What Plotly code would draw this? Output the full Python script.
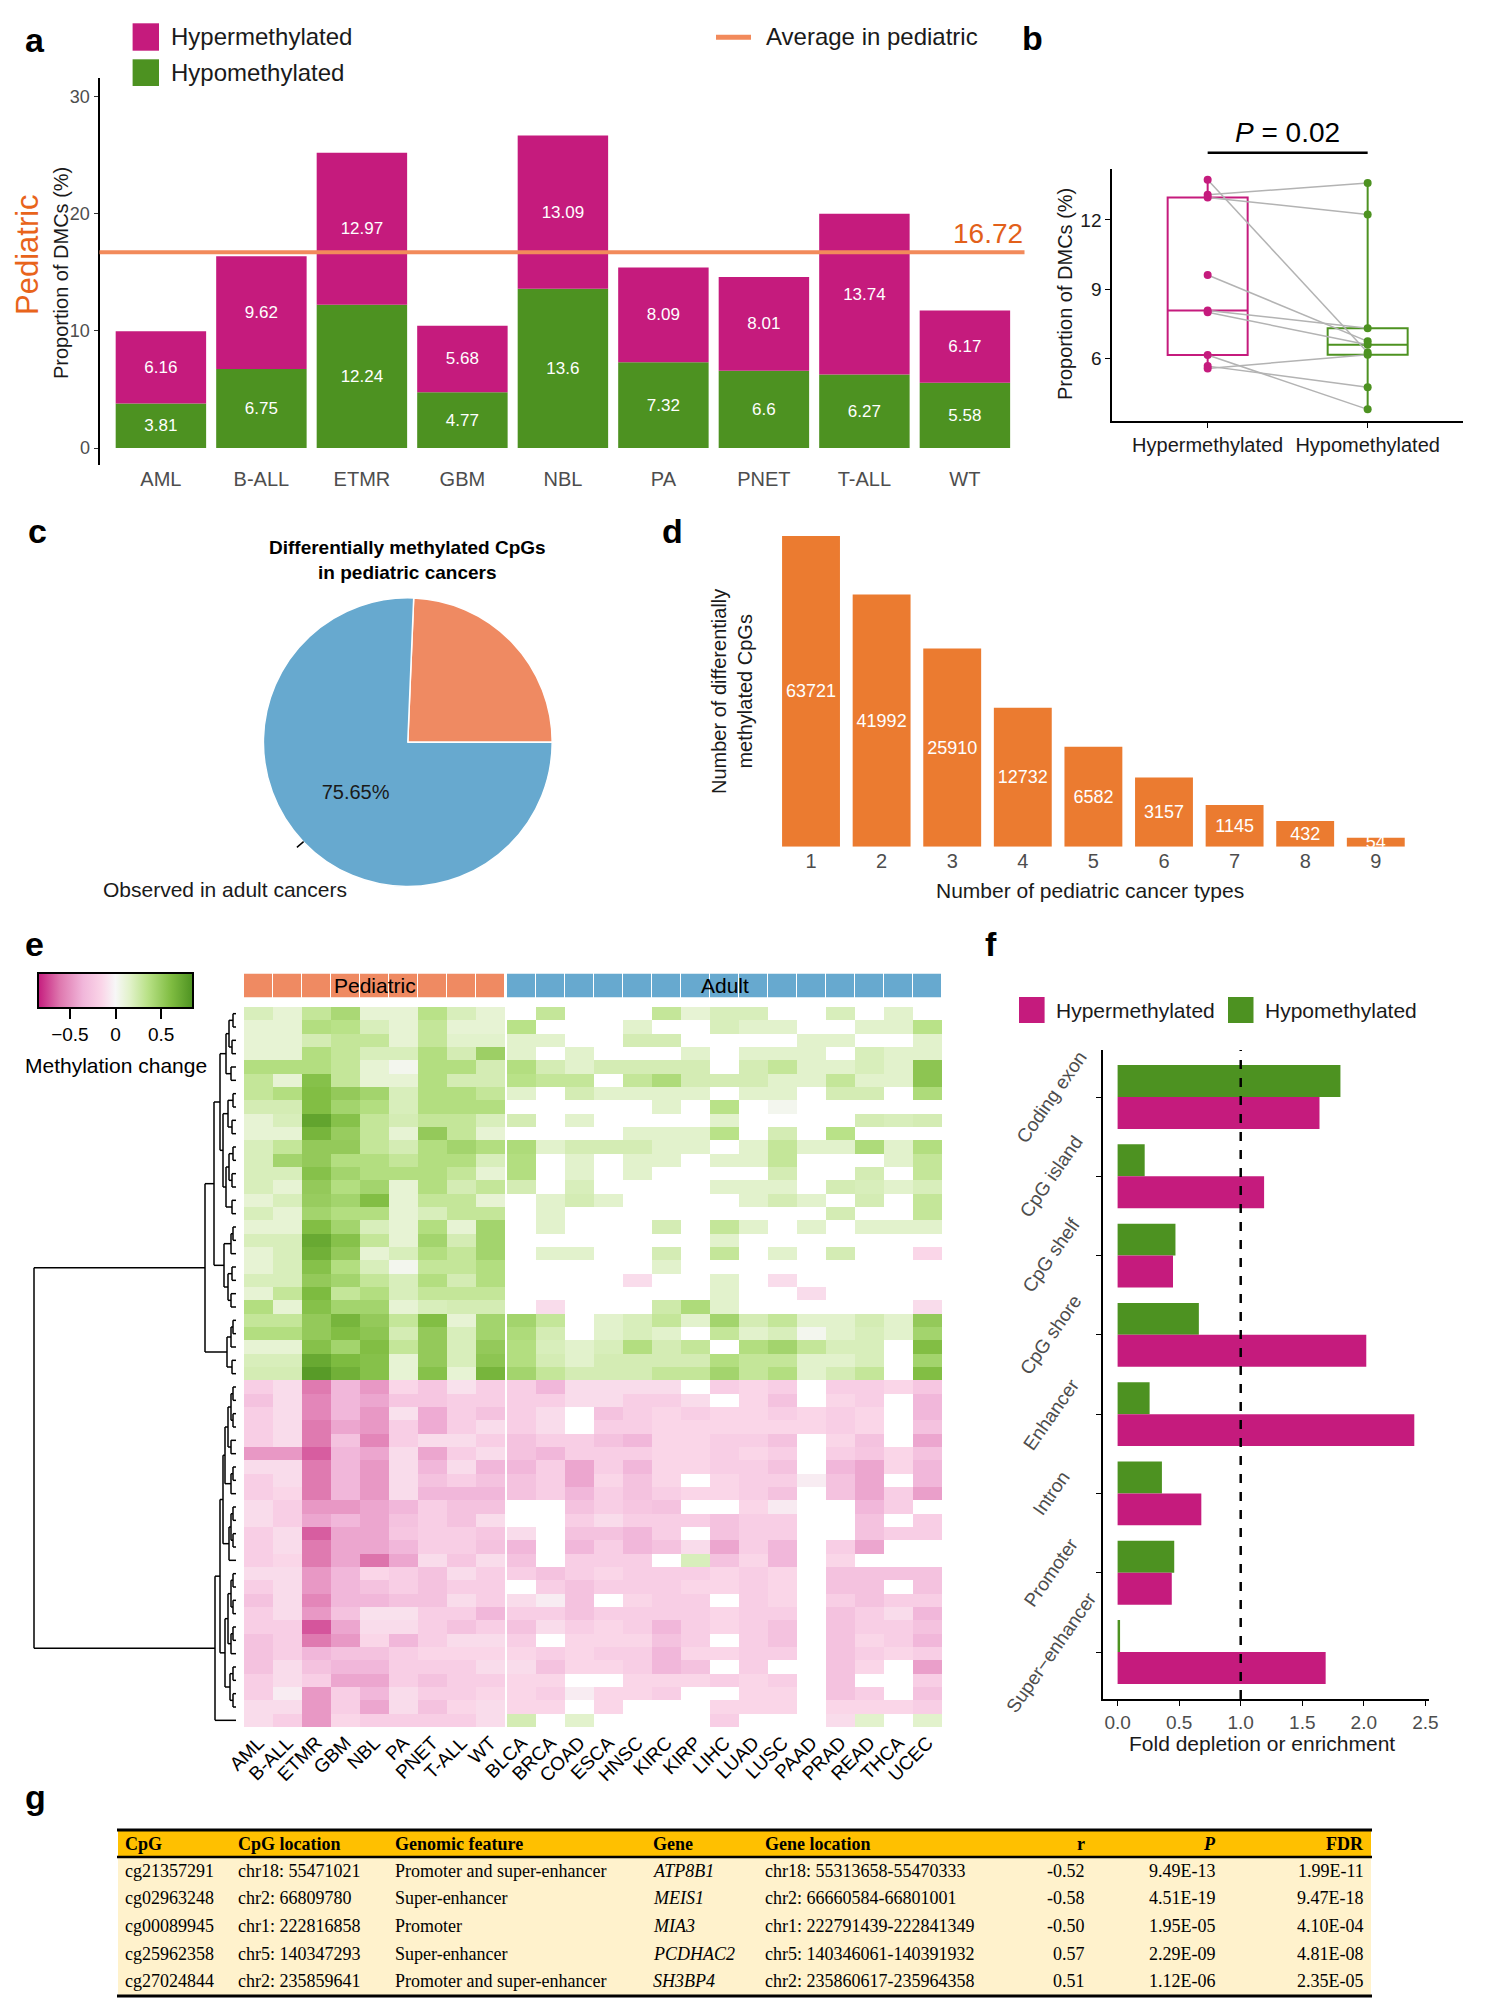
import math
import plotly.graph_objects as go

# The page body adds an 8 px margin, so the figure is drawn 8 px in from the top-left
# and sized to fill the rest of the 1488x2009 window. Positions below use window pixels.
PAGE_OFF = 8
W, H = 1488 - PAGE_OFF, 2009 - PAGE_OFF


def px_x(p):
    return (p - PAGE_OFF) / W


def px_y(p):
    return 1 - (p - PAGE_OFF) / H


FONT = "Liberation Sans, Arial, sans-serif"
SERIF = "Liberation Serif, Times New Roman, serif"
PINK = "#C51B7D"
GREEN = "#4D9221"
AVG_LINE = "#F28A5B"
AVG_TEXT = "#E2601A"
SALMON = "#EF8A62"
BLUE = "#67A9CF"
BAR_ORANGE = "#EB7B30"
GREY = "#4D4D4D"
DARK = "#1A1A1A"

# ---------------- panel a ----------------
cancer_types = ["AML", "B-ALL", "ETMR", "GBM", "NBL", "PA", "PNET", "T-ALL", "WT"]
hyper_pct = [6.16, 9.62, 12.97, 5.68, 13.09, 8.09, 8.01, 13.74, 6.17]
hypo_pct = [3.81, 6.75, 12.24, 4.77, 13.6, 7.32, 6.6, 6.27, 5.58]
avg_pediatric = 16.72

# ---------------- panel b ----------------
box_groups = ["Hypermethylated", "Hypomethylated"]
pair_hyper = [6.16, 9.62, 12.97, 5.68, 13.09, 8.09, 8.01, 13.74, 5.58]
pair_hypo = [3.81, 6.75, 12.24, 4.77, 13.6, 7.32, 6.6, 6.27, 6.17]
p_text = "0.02"

# ---------------- panel c ----------------
pie_labels = ["Not observed in adult cancers", "Observed in adult cancers"]
pie_pct = [24.35, 75.65]

# ---------------- panel d ----------------
n_types = [1, 2, 3, 4, 5, 6, 7, 8, 9]
n_cpgs = [63721, 41992, 25910, 12732, 6582, 3157, 1145, 432, 54]

# ---------------- panel e ----------------
ped_cols = ["AML", "B-ALL", "ETMR", "GBM", "NBL", "PA", "PNET", "T-ALL", "WT"]
adult_cols = ["BLCA", "BRCA", "COAD", "ESCA", "HNSC", "KIRC", "KIRP", "LIHC",
              "LUAD", "LUSC", "PAAD", "PRAD", "READ", "THCA", "UCEC"]
N = None
meth_change = [
    [0.2, 0.12, 0.3, 0.42, 0.12, 0.12, 0.35, 0.2, 0.12, N, 0.3, N, N, N, 0.3, 0.12, 0.2, 0.2, N, N, 0.2, N, 0.15, N],
    [0.12, 0.12, 0.38, 0.35, 0.2, 0.12, 0.3, 0.12, 0.12, 0.35, N, N, N, 0.15, N, N, 0.2, 0.15, 0.15, N, N, 0.15, 0.15, 0.35],
    [0.12, 0.12, 0.22, 0.3, 0.3, 0.12, 0.3, 0.15, 0.15, 0.15, 0.15, N, N, 0.22, 0.22, N, N, N, N, 0.15, 0.15, N, N, 0.15],
    [0.12, 0.12, 0.38, 0.3, 0.2, 0.2, 0.38, 0.22, 0.48, 0.15, N, 0.15, N, N, N, 0.15, N, 0.15, 0.15, 0.15, N, 0.2, 0.15, 0.15],
    [0.38, 0.38, 0.38, 0.3, 0.12, 0.03, 0.38, 0.38, 0.22, 0.38, 0.22, 0.15, 0.22, 0.22, 0.22, 0.22, N, 0.22, 0.3, 0.15, 0.15, 0.2, 0.15, 0.55],
    [0.3, 0.12, 0.58, 0.3, 0.12, 0.12, 0.38, 0.22, 0.22, 0.35, 0.3, 0.3, N, 0.3, 0.4, 0.22, 0.22, 0.22, 0.15, 0.15, 0.3, 0.15, 0.15, 0.55],
    [0.3, 0.38, 0.6, 0.52, 0.45, 0.2, 0.38, 0.38, 0.3, 0.15, N, 0.22, 0.15, 0.15, 0.15, 0.15, N, 0.15, 0.15, N, 0.22, 0.22, N, 0.4],
    [0.22, 0.22, 0.6, 0.45, 0.38, 0.2, 0.38, 0.38, 0.38, N, N, N, N, N, 0.15, N, 0.35, N, 0.03, N, N, N, N, N],
    [0.12, 0.2, 0.75, 0.58, 0.3, 0.22, 0.3, 0.3, 0.2, 0.22, N, 0.15, N, N, N, N, 0.15, N, N, N, N, 0.22, 0.2, 0.22],
    [0.12, 0.12, 0.65, 0.5, 0.3, 0.12, 0.52, 0.3, 0.12, N, N, N, N, 0.15, 0.15, 0.15, 0.35, N, 0.22, N, 0.35, N, N, N],
    [0.2, 0.3, 0.52, 0.52, 0.3, 0.22, 0.38, 0.45, 0.38, 0.4, 0.15, 0.22, 0.22, 0.22, 0.15, 0.15, N, 0.15, 0.3, 0.15, 0.15, 0.4, 0.15, 0.38],
    [0.2, 0.45, 0.52, 0.38, 0.38, 0.3, 0.38, 0.38, 0.2, 0.38, N, 0.15, N, 0.15, 0.15, N, 0.15, 0.15, 0.3, N, N, N, 0.15, 0.3],
    [0.2, 0.2, 0.58, 0.45, 0.38, 0.38, 0.38, 0.3, 0.12, 0.38, N, 0.15, N, 0.15, N, N, N, N, 0.22, N, N, 0.22, N, 0.3],
    [0.2, 0.12, 0.52, 0.38, 0.45, 0.12, 0.38, 0.22, 0.3, 0.22, N, 0.2, N, N, N, N, 0.15, 0.15, 0.15, N, 0.22, 0.2, 0.15, 0.2],
    [0.12, 0.2, 0.5, 0.45, 0.6, 0.12, 0.3, 0.3, 0.12, N, 0.15, 0.22, 0.15, N, N, N, N, 0.15, 0.22, 0.15, N, 0.22, N, 0.3],
    [0.2, 0.12, 0.45, 0.38, 0.38, 0.12, 0.2, 0.3, 0.3, N, 0.15, N, N, N, N, N, N, N, N, N, 0.22, N, N, 0.3],
    [0.12, 0.12, 0.6, 0.45, 0.2, 0.12, 0.38, 0.12, 0.45, N, 0.15, N, N, N, 0.22, N, 0.3, 0.15, N, 0.15, N, 0.15, 0.15, 0.15],
    [0.2, 0.2, 0.72, 0.58, 0.3, 0.12, 0.45, 0.22, 0.45, N, N, N, N, N, N, N, 0.15, N, N, N, N, N, N, N],
    [0.12, 0.2, 0.68, 0.52, 0.12, 0.2, 0.38, 0.3, 0.45, N, 0.15, 0.15, N, N, 0.22, N, 0.3, N, 0.15, N, 0.22, N, N, -0.15],
    [0.12, 0.2, 0.58, 0.38, 0.2, 0.03, 0.3, 0.3, 0.38, N, N, N, N, N, 0.15, N, N, N, N, N, N, N, N, N],
    [0.2, 0.2, 0.52, 0.45, 0.3, 0.2, 0.38, 0.22, 0.38, N, N, N, N, -0.12, N, N, 0.15, N, -0.12, N, N, N, N, N],
    [0.12, 0.3, 0.62, 0.3, 0.38, 0.2, 0.3, 0.3, 0.3, N, N, N, N, N, N, N, 0.15, N, N, -0.12, N, N, N, N],
    [0.38, 0.12, 0.58, 0.45, 0.45, 0.12, 0.2, 0.22, 0.22, N, -0.12, N, N, N, 0.25, 0.4, 0.15, N, N, N, N, N, N, -0.12],
    [0.3, 0.3, 0.52, 0.65, 0.52, 0.3, 0.6, 0.12, 0.45, 0.45, 0.3, N, 0.15, 0.2, 0.3, 0.15, 0.45, 0.22, 0.3, 0.15, 0.15, 0.22, 0.15, 0.52],
    [0.38, 0.38, 0.52, 0.6, 0.55, 0.22, 0.52, 0.2, 0.45, 0.4, 0.22, N, 0.15, 0.2, 0.15, N, 0.3, 0.15, 0.2, 0.03, 0.15, 0.2, 0.15, 0.45],
    [0.12, 0.12, 0.58, 0.45, 0.6, 0.3, 0.52, 0.2, 0.52, 0.38, 0.2, 0.15, 0.2, 0.38, 0.22, 0.3, N, 0.38, 0.45, 0.3, 0.2, 0.2, N, 0.6],
    [0.2, 0.2, 0.72, 0.62, 0.58, 0.12, 0.52, 0.2, 0.55, 0.38, 0.22, 0.15, 0.22, 0.22, 0.22, 0.22, 0.38, 0.3, 0.3, 0.15, 0.15, 0.2, N, 0.45],
    [0.22, 0.22, 0.8, 0.68, 0.58, 0.12, 0.58, 0.12, 0.65, 0.45, 0.3, 0.22, 0.22, 0.22, 0.3, 0.3, 0.45, 0.3, 0.38, 0.15, 0.22, 0.3, N, 0.6],
    [-0.2, -0.12, -0.6, -0.35, -0.48, -0.15, -0.25, -0.1, -0.2, -0.2, -0.35, -0.12, -0.12, -0.12, -0.12, N, -0.2, -0.15, -0.2, N, -0.2, -0.2, -0.15, -0.25],
    [-0.28, -0.12, -0.55, -0.35, -0.42, -0.25, -0.25, -0.2, -0.2, -0.2, -0.2, -0.12, -0.12, -0.2, -0.2, -0.12, N, -0.15, -0.28, N, -0.15, -0.2, N, -0.35],
    [-0.2, -0.12, -0.55, -0.35, -0.48, -0.1, -0.4, -0.2, -0.28, -0.2, -0.12, N, -0.28, -0.2, -0.15, -0.2, -0.15, -0.15, -0.2, -0.15, -0.2, -0.15, N, -0.35],
    [-0.2, -0.12, -0.6, -0.42, -0.48, -0.2, -0.4, -0.2, -0.12, -0.2, -0.12, N, -0.2, -0.2, -0.15, -0.15, -0.15, -0.15, -0.15, -0.15, -0.2, -0.15, N, -0.28],
    [-0.2, -0.12, -0.6, -0.28, -0.55, -0.2, -0.12, -0.12, -0.2, -0.28, -0.2, -0.2, -0.28, -0.35, -0.15, -0.15, -0.2, -0.2, -0.28, N, -0.15, -0.28, N, -0.42],
    [-0.48, -0.48, -0.68, -0.35, -0.42, -0.12, -0.42, -0.2, -0.12, -0.28, -0.35, -0.2, -0.2, -0.2, -0.15, -0.15, -0.2, -0.15, -0.2, N, -0.2, -0.25, -0.15, -0.28],
    [-0.12, -0.12, -0.6, -0.35, -0.48, -0.12, -0.35, -0.12, -0.35, -0.35, -0.2, -0.42, -0.2, -0.35, -0.15, -0.15, -0.2, -0.2, -0.28, N, -0.35, -0.42, -0.15, -0.35],
    [-0.2, -0.12, -0.6, -0.35, -0.48, -0.12, -0.28, -0.2, -0.28, -0.28, -0.2, -0.42, -0.15, -0.28, -0.15, N, -0.15, -0.2, -0.2, -0.05, -0.28, -0.42, N, -0.35],
    [-0.2, -0.15, -0.6, -0.35, -0.48, -0.12, -0.35, -0.35, -0.35, -0.28, -0.2, -0.35, -0.2, -0.28, -0.2, -0.15, -0.15, -0.2, -0.28, N, -0.28, -0.42, -0.2, -0.45],
    [-0.12, -0.2, -0.48, -0.48, -0.42, -0.35, -0.2, -0.28, -0.28, N, N, -0.28, -0.2, -0.25, -0.28, N, N, -0.15, -0.06, N, N, -0.35, -0.2, N],
    [-0.12, -0.2, -0.42, -0.35, -0.42, -0.28, -0.2, -0.28, -0.12, N, N, -0.2, -0.12, -0.2, -0.2, -0.2, -0.28, -0.2, -0.2, N, N, -0.28, N, -0.2],
    [-0.2, -0.12, -0.68, -0.42, -0.42, -0.25, -0.2, -0.2, -0.25, -0.12, N, -0.28, -0.28, -0.35, -0.2, N, -0.28, -0.2, -0.2, N, N, -0.28, -0.2, -0.2],
    [-0.2, -0.12, -0.6, -0.42, -0.42, -0.35, -0.2, -0.2, -0.28, -0.35, N, -0.35, -0.2, -0.35, -0.28, -0.12, -0.42, -0.2, -0.35, N, -0.2, -0.42, N, N],
    [-0.2, -0.15, -0.6, -0.42, -0.62, -0.42, -0.12, -0.25, -0.12, -0.28, N, -0.2, -0.2, -0.2, N, 0.2, -0.28, -0.15, -0.35, N, -0.15, N, N, N],
    [-0.12, -0.12, -0.48, -0.35, -0.15, -0.2, -0.28, -0.12, -0.2, -0.2, -0.28, -0.2, -0.15, -0.2, -0.2, -0.2, -0.15, -0.2, -0.15, N, -0.28, -0.28, -0.28, -0.28],
    [-0.2, -0.12, -0.48, -0.35, -0.28, -0.2, -0.28, -0.2, -0.2, N, -0.2, -0.28, -0.2, -0.2, -0.2, -0.15, -0.15, -0.2, -0.15, N, -0.28, -0.28, N, -0.28],
    [-0.28, -0.12, -0.55, -0.35, -0.35, -0.28, -0.28, -0.12, -0.2, -0.12, -0.05, -0.28, N, -0.15, -0.2, -0.2, N, -0.2, -0.15, N, -0.2, -0.28, -0.2, -0.2],
    [-0.2, -0.12, -0.48, -0.28, -0.1, -0.1, -0.2, -0.2, -0.35, -0.2, -0.2, -0.28, -0.2, -0.2, -0.2, -0.2, -0.15, -0.2, -0.2, N, -0.28, -0.2, -0.12, -0.35],
    [-0.2, -0.2, -0.7, -0.42, -0.12, -0.12, -0.2, -0.28, -0.2, -0.28, -0.12, -0.2, -0.15, -0.2, -0.35, -0.2, -0.15, -0.2, -0.28, N, -0.28, -0.2, -0.2, -0.28],
    [-0.28, -0.2, -0.6, -0.48, -0.15, -0.35, -0.2, -0.12, -0.12, -0.2, N, -0.15, -0.15, -0.15, -0.28, -0.2, N, -0.2, -0.28, N, -0.28, -0.15, -0.2, -0.35],
    [-0.28, -0.2, -0.35, -0.28, -0.28, -0.2, -0.15, -0.15, -0.15, -0.15, -0.2, -0.15, -0.2, -0.2, -0.35, -0.15, -0.15, -0.2, -0.2, N, -0.28, -0.2, -0.15, -0.2],
    [-0.28, -0.12, -0.28, -0.35, -0.35, -0.2, -0.2, -0.2, -0.12, -0.12, -0.28, -0.15, -0.15, -0.2, -0.35, -0.28, N, -0.2, N, N, -0.28, -0.15, N, -0.45],
    [-0.2, -0.12, -0.2, -0.42, -0.42, -0.2, -0.28, -0.2, -0.2, -0.15, -0.15, N, N, -0.15, -0.15, -0.15, -0.2, -0.15, -0.2, N, -0.28, N, N, -0.2],
    [-0.2, -0.05, -0.48, -0.2, -0.35, -0.12, -0.2, -0.2, -0.15, -0.15, -0.2, -0.05, -0.15, -0.15, -0.2, N, N, -0.15, -0.15, N, -0.28, -0.2, N, -0.28],
    [-0.12, -0.12, -0.48, -0.2, -0.42, -0.12, -0.28, -0.15, -0.12, -0.15, -0.15, N, -0.15, N, N, N, -0.15, -0.15, -0.15, N, -0.15, -0.15, -0.15, -0.2],
    [-0.12, -0.2, -0.48, -0.15, -0.2, -0.2, -0.2, -0.2, -0.12, 0.22, N, 0.15, N, N, N, N, -0.2, N, N, N, -0.12, 0.15, N, 0.15],
]
# row dendrogram: [merge height, left, right]; leaves are row indices
dendro_tree = [202,
               [31,
                [22,
                 [16,
                  [10, [7, [3, 0, 1], [4, 2, 3]], [5, 4, 5]],
                  [13, [8, [3, 6, 7], [4, 8, 9]],
                   [10, [7, [3, 10, 11], [4, 12, 13]], [4, 14, 15]]]],
                 [12, [5, [3, 16, 17], 18], [8, [4, 19, 20], [5, 21, 22]]]],
                [9, [5, [3, 23, 24], 25], [4, 26, 27]]],
               [21,
                [16,
                 [13,
                  [11, [8, [5, [3, 28, 29], [3, 30, 31]], [5, 32, 33]], [5, [3, 34, 35], 36]],
                  [7, [5, [3, 37, 38], [3, 39, 40]], 41]],
                 [11, [8, [5, [3, 42, 43], [3, 44, 45]], [5, [3, 46, 47], 48]],
                  [6, [3, 49, 50], [3, 51, 52]]]],
                53]]

# ---------------- panel f ----------------
features = ["Coding exon", "CpG island", "CpG shelf", "CpG shore", "Enhancer",
            "Intron", "Promoter", "Super\u2212enhancer"]
fold_hyper = [1.64, 1.19, 0.45, 2.02, 2.41, 0.68, 0.44, 1.69]
fold_hypo = [1.81, 0.22, 0.47, 0.66, 0.26, 0.36, 0.46, 0.02]

# ---------------- panel g ----------------
tbl_header = ["CpG", "CpG location", "Genomic feature", "Gene", "Gene location", "r", "<i>P</i>", "FDR"]
tbl_cpg = ["cg21357291", "cg02963248", "cg00089945", "cg25962358", "cg27024844"]
tbl_loc = ["chr18: 55471021", "chr2: 66809780", "chr1: 222816858", "chr5: 140347293", "chr2: 235859641"]
tbl_feat = ["Promoter and super-enhancer", "Super-enhancer", "Promoter", "Super-enhancer",
            "Promoter and super-enhancer"]
tbl_gene = ["ATP8B1", "MEIS1", "MIA3", "PCDHAC2", "SH3BP4"]
tbl_gene_loc = ["chr18: 55313658-55470333", "chr2: 66660584-66801001", "chr1: 222791439-222841349",
                "chr5: 140346061-140391932", "chr2: 235860617-235964358"]
tbl_r = ["-0.52", "-0.58", "-0.50", "0.57", "0.51"]
tbl_p = ["9.49E-13", "4.51E-19", "1.95E-05", "2.29E-09", "1.12E-06"]
tbl_fdr = ["1.99E-11", "9.47E-18", "4.10E-04", "4.81E-08", "2.35E-05"]

fig = go.Figure()

# ===== a =====
fig.add_trace(go.Bar(x=cancer_types, y=hypo_pct, marker=dict(color=GREEN, line=dict(width=0)),
                     width=0.9, text=[str(v) for v in hypo_pct], textposition="inside",
                     insidetextanchor="middle", textangle=0, constraintext="none",
                     textfont=dict(color="white", size=17), xaxis="x", yaxis="y"))
fig.add_trace(go.Bar(x=cancer_types, y=hyper_pct, base=hypo_pct, marker=dict(color=PINK, line=dict(width=0)),
                     width=0.9, text=[str(v) for v in hyper_pct], textposition="inside",
                     insidetextanchor="middle", textangle=0, constraintext="none",
                     textfont=dict(color="white", size=17), xaxis="x", yaxis="y"))

# ===== b =====
for name, vals, col in [(box_groups[0], pair_hyper, PINK), (box_groups[1], pair_hypo, GREEN)]:
    fig.add_trace(go.Box(x=[name] * len(vals), y=vals, boxpoints=False, width=0.5,
                         quartilemethod="inclusive", whiskerwidth=0,
                         line=dict(color=col, width=2), fillcolor="rgba(255,255,255,0)",
                         xaxis="x2", yaxis="y2"))
lx, ly = [], []
for h_, l_ in zip(pair_hyper, pair_hypo):
    lx += [box_groups[0], box_groups[1], None]
    ly += [h_, l_, None]
fig.add_trace(go.Scatter(x=lx, y=ly, mode="lines", line=dict(color="#B3B3B3", width=1.5),
                         xaxis="x2", yaxis="y2"))
fig.add_trace(go.Scatter(x=[box_groups[0]] * 9, y=pair_hyper, mode="markers",
                         marker=dict(color=PINK, size=8), xaxis="x2", yaxis="y2"))
fig.add_trace(go.Scatter(x=[box_groups[1]] * 9, y=pair_hypo, mode="markers",
                         marker=dict(color=GREEN, size=8), xaxis="x2", yaxis="y2"))

# ===== c =====
fig.add_trace(go.Pie(labels=pie_labels, values=pie_pct, sort=False, direction="clockwise",
                     rotation=90 - pie_pct[0] * 3.6,
                     marker=dict(colors=[SALMON, BLUE], line=dict(color="white", width=1.5)),
                     text=["", f"{pie_pct[1]:.2f}%"], textinfo="text", textposition="inside",
                     insidetextorientation="horizontal",
                     textfont=dict(size=20, color=DARK),
                     domain=dict(x=[px_x(263.4), px_x(552.2)], y=[px_y(886.7), px_y(597.7)])))

# ===== d =====
fig.add_trace(go.Bar(x=n_types, y=[math.sqrt(v) for v in n_cpgs], width=0.82,
                     marker=dict(color=BAR_ORANGE, line=dict(width=0)),
                     text=[str(v) for v in n_cpgs], textposition="inside",
                     insidetextanchor="middle", textangle=0, constraintext="none",
                     textfont=dict(color="white", size=18), xaxis="x3", yaxis="y3"))

# ===== e =====
HM_SCALE = [[0, "#C51B7D"], [0.14, "#DE77AE"], [0.29, "#F1B6DA"], [0.41, "#FAD5E8"],
            [0.5, "#F7F7F7"], [0.59, "#E2F2CB"], [0.71, "#B8E186"], [0.86, "#7FBC41"],
            [1, "#4D9221"]]
rows = list(range(len(meth_change)))
ped_z = [r[:len(ped_cols)] for r in meth_change]
adult_z = [r[len(ped_cols):] for r in meth_change]
fig.add_trace(go.Heatmap(z=ped_z, x=ped_cols, y=rows, coloraxis="coloraxis",
                         xaxis="x4", yaxis="y4", hoverongaps=False))
fig.add_trace(go.Heatmap(z=adult_z, x=adult_cols, y=rows, coloraxis="coloraxis",
                         xaxis="x5", yaxis="y4", hoverongaps=False))
fig.add_trace(go.Heatmap(z=[[0] * len(ped_cols)], x=ped_cols, y=[0], colorscale=[[0, SALMON], [1, SALMON]],
                         showscale=False, xgap=1, xaxis="x4", yaxis="y5"))
fig.add_trace(go.Heatmap(z=[[0] * len(adult_cols)], x=adult_cols, y=[0], colorscale=[[0, BLUE], [1, BLUE]],
                         showscale=False, xgap=1, xaxis="x5", yaxis="y5"))

dx, dy = [], []


def walk(node):
    if isinstance(node, int):
        return node, 0
    h, left, right = node
    yl, hl = walk(left)
    yr, hr = walk(right)
    dx.extend([hl, h, None, hr, h, None, h, h, None])
    dy.extend([yl, yl, None, yr, yr, None, yl, yr, None])
    return (yl + yr) / 2, h


walk(dendro_tree)
fig.add_trace(go.Scatter(x=dx, y=dy, mode="lines", line=dict(color="black", width=1.5),
                         xaxis="x6", yaxis="y4"))

# ===== f =====
BW = 0.4025
fig.add_trace(go.Bar(y=features, x=fold_hypo, orientation="h", width=BW, offset=-BW,
                     marker=dict(color=GREEN, line=dict(width=0)), xaxis="x7", yaxis="y7"))
fig.add_trace(go.Bar(y=features, x=fold_hyper, orientation="h", width=BW, offset=0,
                     marker=dict(color=PINK, line=dict(width=0)), xaxis="x7", yaxis="y7"))

# ---------------- axes ----------------
A_X = dict(dom=[px_x(99.5), px_x(1024.5)], rng=[-0.611, 8.593])
B_X = dict(dom=[px_x(1112.3), px_x(1462.7)], rng=[-0.596, 1.594])


def to_paper(v, ax):
    d0, d1 = ax["dom"]
    r0, r1 = ax["rng"]
    return d0 + (v - r0) / (r1 - r0) * (d1 - d0)


noaxis = dict(showgrid=False, zeroline=False)
layout = dict(
    width=W, height=H, margin=dict(l=0, r=0, t=0, b=0, autoexpand=False),
    paper_bgcolor="white", plot_bgcolor="white",
    showlegend=False, barmode="overlay", font=dict(family=FONT, color=DARK),
    xaxis=dict(domain=A_X["dom"], range=A_X["rng"], anchor="y", showline=False, ticks="",
               tickfont=dict(size=20, color=GREY), **noaxis),
    yaxis=dict(domain=[px_y(465), px_y(78)], range=[-1.45, 31.6], anchor="x", showline=True,
               linecolor="black", linewidth=2, ticks="outside", ticklen=4, tickcolor="#333333",
               tickvals=[0, 10, 20, 30], tickfont=dict(size=18, color=GREY), **noaxis),
    xaxis2=dict(domain=B_X["dom"], range=B_X["rng"], anchor="y2", type="category",
                categoryorder="array", categoryarray=box_groups, showline=True, linecolor="black",
                linewidth=2, ticks="outside", ticklen=5, tickcolor="black",
                tickfont=dict(size=20, color=DARK), **noaxis),
    yaxis2=dict(domain=[px_y(420.7), px_y(169.3)], range=[3.32, 14.19], anchor="x2", showline=True,
                linecolor="black", linewidth=2, ticks="outside", ticklen=5, tickcolor="black",
                tickvals=[6, 9, 12], tickfont=dict(size=19, color=DARK), **noaxis),
    xaxis3=dict(domain=[px_x(770), px_x(1430)], range=[0.419, 9.768], anchor="y3", tickvals=n_types,
                ticks="", showline=False, tickfont=dict(size=20, color=GREY), **noaxis),
    yaxis3=dict(domain=[px_y(846.7), px_y(520)], range=[0, 265.4], anchor="x3", visible=False),
    xaxis4=dict(domain=[px_x(244), px_x(505)], range=[-0.5, 8.5], anchor="y4", type="category",
                tickangle=-45, ticks="", tickfont=dict(size=19, color="black"), **noaxis),
    xaxis5=dict(domain=[px_x(507), px_x(942)], range=[-0.5, 14.5], anchor="y4", type="category",
                tickangle=-45, ticks="", tickfont=dict(size=19, color="black"), **noaxis),
    yaxis4=dict(domain=[px_y(1727), px_y(1007)], range=[53.5, -0.5], anchor="x4", visible=False),
    yaxis5=dict(domain=[px_y(997.5), px_y(973.5)], range=[0.5, -0.5], anchor="x4", visible=False),
    xaxis6=dict(domain=[px_x(32), px_x(238)], range=[204, -2], anchor="y4", visible=False),
    xaxis7=dict(domain=[px_x(1103.2), px_x(1428.7)], range=[-0.117, 2.527], anchor="y7",
                tickvals=[0, 0.5, 1, 1.5, 2, 2.5], tickformat=".1f", ticks="outside", ticklen=5,
                tickcolor="black", showline=True, linecolor="black", linewidth=2,
                tickfont=dict(size=19, color=GREY), **noaxis),
    yaxis7=dict(domain=[px_y(1699.1), px_y(1049.9)], range=[7.594, -0.594], anchor="x7",
                type="category", categoryorder="array", categoryarray=features,
                showticklabels=False, ticks="outside", ticklen=5, tickcolor="black",
                showline=True, linecolor="black", linewidth=2, **noaxis),
    coloraxis=dict(cmin=-0.85, cmax=0.85, colorscale=HM_SCALE,
                   colorbar=dict(orientation="h", x=px_x(115.5), xanchor="center", y=px_y(973.3),
                                 yanchor="top", len=155, lenmode="pixels", thickness=35,
                                 thicknessmode="pixels", outlinewidth=2, outlinecolor="black",
                                 ticks="outside", ticklen=10, tickwidth=1.5, tickcolor="black",
                                 tickvals=[-0.5, 0, 0.5], ticktext=["\u22120.5", "0", "0.5"],
                                 tickfont=dict(size=19, color="black"), xpad=0, ypad=0)),
)
fig.update_layout(**layout)

shapes = []
ann = []


def text(x, y, s, size, color=DARK, xanchor="center", yanchor="middle", angle=0, bold=False,
         family=FONT):
    ann.append(dict(x=px_x(x), y=px_y(y), xref="paper", yref="paper", text=(f"<b>{s}</b>" if bold else s),
                    showarrow=False, xanchor=xanchor, yanchor=yanchor, textangle=angle,
                    font=dict(size=size, color=color, family=family)))


def rect(x0, y0, x1, y1, color):
    shapes.append(dict(type="rect", xref="paper", yref="paper", x0=px_x(x0), x1=px_x(x1),
                       y0=px_y(y0), y1=px_y(y1), fillcolor=color, line=dict(width=0), layer="below"))


def hline(x0, x1, y, color="black", width=2):
    shapes.append(dict(type="line", xref="paper", yref="paper", x0=px_x(x0), x1=px_x(x1),
                       y0=px_y(y), y1=px_y(y), line=dict(color=color, width=width)))


# panel letters
for letter, (lx_, ly_) in {"a": (35, 40), "b": (1032, 38), "c": (37, 531), "d": (672, 531),
                          "e": (34, 944), "f": (991, 944), "g": (35, 1797)}.items():
    text(lx_, ly_, letter, 34, color="black", bold=True)

# panel a legend & labels
rect(132.6, 23.3, 159, 50.7, PINK)
rect(132.6, 59.3, 159, 86, GREEN)
text(169, 37, "Hypermethylated", 24, xanchor="left")
text(169, 73, "Hypomethylated", 24, xanchor="left")
hline(716, 751, 37.3, AVG_LINE, 5)
text(764, 37, "Average in pediatric", 24, xanchor="left")
text(28, 255, "Pediatric", 31, color="#E8641B", angle=-90)
text(61, 273, "Proportion of DMCs (%)", 20, angle=-90)
shapes.append(dict(type="line", xref="x domain", yref="y", x0=0, x1=1, y0=avg_pediatric, y1=avg_pediatric,
                   line=dict(color=AVG_LINE, width=4)))
ann.append(dict(xref="x domain", yref="y", x=1, y=avg_pediatric, text=f"{avg_pediatric}", showarrow=False,
                xanchor="right", yanchor="bottom", yshift=1, font=dict(size=28, color=AVG_TEXT, family=FONT)))

# panel b
bx0 = to_paper(0, B_X)
bx1 = to_paper(1, B_X)
shapes.append(dict(type="line", xref="paper", yref="paper", x0=bx0, x1=bx1, y0=px_y(152.7), y1=px_y(152.7),
                   line=dict(color="black", width=2.5)))
ann.append(dict(xref="paper", yref="paper", x=(bx0 + bx1) / 2, y=px_y(133), text=f"<i>P</i> = {p_text}",
                showarrow=False, xanchor="center", yanchor="middle", font=dict(size=28, color="black", family=FONT)))
text(1065, 294, "Proportion of DMCs (%)", 20, angle=-90)

# panel c
text(407, 560, "Differentially methylated CpGs<br>in pediatric cancers", 19, color="black", bold=True)
text(224.8, 889, pie_labels[1], 21)
shapes.append(dict(type="line", xref="paper", yref="paper", x0=px_x(296.9), x1=px_x(303.6),
                   y0=px_y(847.3), y1=px_y(841.7), line=dict(color="black", width=1.5)))

# panel d
text(732, 692, "Number of differentially<br>methylated CpGs", 20, angle=-90)
text(1090, 890, "Number of pediatric cancer types", 21)

# panel e
text(374.5, 985.5, "Pediatric", 21, color="black")
text(724.5, 985.5, "Adult", 21, color="black")
text(115.7, 1065, "Methylation change", 21, color="black")

# panel f
rect(1019, 997, 1044.6, 1023, PINK)
rect(1228, 997, 1253.5, 1023, GREEN)
text(1053.6, 1010, "Hypermethylated", 21, xanchor="left")
text(1262.5, 1010, "Hypomethylated", 21, xanchor="left")
for feat in features:
    ann.append(dict(xref="paper", yref="y7", x=px_x(1051), y=feat, text=feat, showarrow=False,
                    textangle=-55, xanchor="center", yanchor="middle",
                    font=dict(size=19, color=GREY, family=FONT)))
shapes.append(dict(type="line", xref="x7", yref="y7 domain", x0=1, x1=1, y0=0, y1=1,
                   line=dict(color="black", width=2.5, dash="dash")))
text(1262, 1743, "Fold depletion or enrichment", 21)

# panel g : table drawn as text on coloured bands
TBL_LEFT, TBL_RIGHT = 118, 1371
HEAD_TOP, HEAD_BOT, BODY_BOT = 1831, 1857, 1995
rect(TBL_LEFT, HEAD_TOP, TBL_RIGHT, HEAD_BOT, "#FFC000")
rect(TBL_LEFT, HEAD_BOT, TBL_RIGHT, BODY_BOT, "#FFF2CC")
hline(TBL_LEFT - 1, TBL_RIGHT + 1, 1830, "black", 3)
hline(TBL_LEFT - 1, TBL_RIGHT + 1, HEAD_BOT, "black", 2.5)
hline(TBL_LEFT - 1, TBL_RIGHT + 1, 1996, "black", 3)
col_x = [123, 236, 393.5, 651, 762.6, 1087, 1218, 1366]
col_anchor = ["left"] * 5 + ["right"] * 3
columns = [tbl_cpg, tbl_loc, tbl_feat, [f"<i>{g}</i>" for g in tbl_gene], tbl_gene_loc, tbl_r, tbl_p, tbl_fdr]
head_y = (HEAD_TOP + HEAD_BOT) / 2
row_pitch = (BODY_BOT - HEAD_BOT) / len(tbl_cpg)
for j, hdr in enumerate(tbl_header):
    text(col_x[j], head_y, hdr, 18, color="black", xanchor=col_anchor[j], bold=True, family=SERIF)
    for i, val in enumerate(columns[j]):
        text(col_x[j], HEAD_BOT + row_pitch * (i + 0.5), val, 18, color="black",
             xanchor=col_anchor[j], family=SERIF)

fig.update_layout(shapes=shapes, annotations=ann)
fig.write_html("out.html")
